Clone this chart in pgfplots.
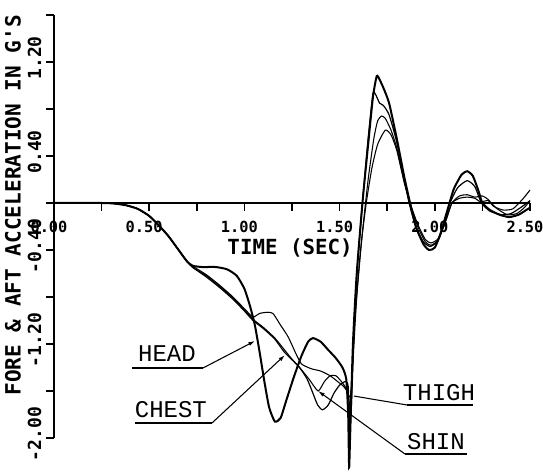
\documentclass[border=0pt]{standalone}
\usepackage{pgfplots}
\pgfplotsset{compat=1.18}
\usepackage{fontspec}
\setmainfont{Liberation Mono}
\newfontfamily\bmono{DejaVu Sans Mono}
\usetikzlibrary{arrows.meta}
\begin{document}
\begin{tikzpicture}
\useasboundingbox (-40.5pt,-26.25pt) rectangle (366.75pt,328.5pt);
\begin{axis}[
 at={(0,0)}, anchor=south west,
 scale only axis, width=357pt, height=317.25pt,
 xmin=0, xmax=2.5, ymin=-2.0, ymax=1.6,
 axis x line=middle, axis y line=left,
 axis line style={-, line width=1.3pt},
 clip=false,
 xtick={0,0.5,1,1.5,2,2.5},
 xticklabels={0.00,0.50,1.00,1.50,2.00,2.50},
 minor xtick={0.25,0.75,1.25,1.75,2.25},
 ytick={-2.0,-1.2,-0.4,0.4,1.2},
 yticklabels={-2.00,-1.20,-0.40,0.40,1.20},
 minor ytick={-1.6,-0.8,0,0.8,1.6},
 tick align=outside,
 major tick length=6pt, minor tick length=6pt,
 every tick/.style={line width=1.1pt, black},
 hide obscured x ticks=false, hide obscured y ticks=false,
 xticklabel style={font=\bmono\bfseries\fontsize{11.5}{13}\selectfont, anchor=north, xshift=-3.75pt, yshift=-4pt},
 yticklabel style={font=\bmono\bfseries\fontsize{13.5}{15}\selectfont, rotate=90, anchor=south, xshift=3pt},
 xlabel={TIME (SEC)}, ylabel={FORE \& AFT ACCELERATION IN G'S},
 every axis x label/.style={at={(axis cs:1.24,-0.385)}, anchor=center, font=\bmono\bfseries\fontsize{15.6}{17}\selectfont},
 every axis y label/.style={at={(axis cs:-0.215,-0.02)}, rotate=90, anchor=center, font=\bmono\bfseries\fontsize{15.8}{18}\selectfont},
]
% HEAD (thick)
\addplot[black, line width=1.5pt, smooth, tension=0.35] coordinates {
(0,0) (0.25,0) (0.32,-0.005) (0.38,-0.02) (0.44,-0.05) (0.50,-0.11) (0.55,-0.19) (0.60,-0.28) (0.65,-0.39) (0.70,-0.50)
(0.73,-0.535) (0.78,-0.545) (0.85,-0.545) (0.91,-0.565) (0.96,-0.62) (1.00,-0.73) (1.03,-0.88) (1.055,-1.04) (1.08,-1.27) (1.105,-1.52) (1.13,-1.74) (1.16,-1.86) (1.19,-1.83) (1.22,-1.68) (1.26,-1.48) (1.30,-1.30) (1.335,-1.18) (1.36,-1.15) (1.40,-1.18) (1.44,-1.25) (1.48,-1.32) (1.515,-1.40) (1.535,-1.50) (1.545,-1.8) (1.55,-2.25)
(1.555,-2.0) (1.57,-1.2) (1.59,-0.6) (1.62,0.0) (1.65,0.5) (1.675,0.9) (1.695,1.08) (1.71,1.05) (1.73,0.98) (1.76,0.85) (1.80,0.55) (1.84,0.22) (1.87,0.0) (1.90,-0.2) (1.94,-0.35) (1.97,-0.40) (2.00,-0.38) (2.03,-0.26) (2.07,-0.04) (2.10,0.12) (2.14,0.24) (2.17,0.27) (2.20,0.23) (2.23,0.10) (2.25,0.0) (2.29,-0.06) (2.34,-0.10) (2.39,-0.12) (2.44,-0.10) (2.48,-0.06) (2.50,-0.04)
};
% CHEST
\addplot[black, line width=0.9pt, smooth, tension=0.35] coordinates {
(0,0) (0.25,0) (0.32,-0.005) (0.38,-0.02) (0.44,-0.05) (0.50,-0.11) (0.55,-0.19) (0.60,-0.28) (0.65,-0.39) (0.70,-0.50)
(0.73,-0.55) (0.80,-0.62) (0.87,-0.71) (0.94,-0.81) (1.00,-0.91) (1.045,-0.99) (1.10,-1.06) (1.16,-1.15) (1.21,-1.25) (1.25,-1.33) (1.29,-1.40) (1.33,-1.50) (1.36,-1.62) (1.385,-1.72) (1.41,-1.76) (1.44,-1.72) (1.47,-1.62) (1.50,-1.55) (1.53,-1.52) (1.545,-1.56) (1.555,-1.9)
(1.565,-1.6) (1.58,-0.9) (1.60,-0.4) (1.625,0.1) (1.65,0.55) (1.675,0.93) (1.69,0.92) (1.71,0.85) (1.73,0.83) (1.76,0.75) (1.80,0.52) (1.84,0.20) (1.865,0.0) (1.90,-0.2) (1.94,-0.33) (1.975,-0.37) (2.01,-0.33) (2.05,-0.18) (2.08,0.0) (2.12,0.13) (2.17,0.19) (2.21,0.14) (2.245,0.0) (2.29,-0.07) (2.35,-0.10) (2.40,-0.09) (2.45,-0.04) (2.50,0.02)
};
% THIGH
\addplot[black, line width=0.8pt, smooth, tension=0.35] coordinates {
(0,0) (0.25,0) (0.32,-0.005) (0.38,-0.02) (0.44,-0.05) (0.50,-0.11) (0.55,-0.19) (0.60,-0.28) (0.65,-0.39) (0.70,-0.50)
(0.73,-0.54) (0.80,-0.61) (0.87,-0.70) (0.94,-0.80) (1.00,-0.90) (1.045,-0.97) (1.08,-0.94) (1.12,-0.93) (1.15,-0.94) (1.19,-1.04) (1.23,-1.14) (1.27,-1.28) (1.30,-1.37) (1.35,-1.41) (1.40,-1.43) (1.45,-1.47) (1.49,-1.52) (1.52,-1.56) (1.545,-1.62) (1.555,-1.75)
(1.565,-1.5) (1.59,-0.8) (1.62,-0.25) (1.65,0.2) (1.68,0.55) (1.70,0.70) (1.72,0.74) (1.74,0.72) (1.77,0.62) (1.80,0.47) (1.84,0.18) (1.87,0.0) (1.91,-0.2) (1.95,-0.33) (1.98,-0.36) (2.02,-0.31) (2.06,-0.14) (2.09,0.0) (2.13,0.04) (2.17,0.05) (2.21,0.04) (2.24,0.01) (2.28,0.02) (2.31,-0.03) (2.36,-0.06) (2.41,-0.05) (2.46,0.03) (2.50,0.11)
};
% SHIN
\addplot[black, line width=0.8pt, smooth, tension=0.35] coordinates {
(0,0) (0.25,0) (0.32,-0.005) (0.38,-0.02) (0.44,-0.05) (0.50,-0.11) (0.55,-0.19) (0.60,-0.28) (0.65,-0.39) (0.70,-0.50)
(0.73,-0.55) (0.80,-0.63) (0.87,-0.72) (0.94,-0.82) (1.00,-0.92) (1.045,-1.0) (1.10,-1.07) (1.16,-1.16) (1.21,-1.27) (1.26,-1.35) (1.30,-1.42) (1.34,-1.50) (1.387,-1.60) (1.42,-1.52) (1.45,-1.47) (1.48,-1.47) (1.51,-1.52) (1.535,-1.58) (1.55,-1.65)
(1.56,-1.6) (1.58,-1.0) (1.61,-0.4) (1.64,0.0) (1.67,0.3) (1.70,0.5) (1.74,0.62) (1.77,0.58) (1.80,0.45) (1.84,0.17) (1.87,0.0) (1.91,-0.18) (1.95,-0.31) (1.98,-0.34) (2.02,-0.30) (2.06,-0.14) (2.09,0.0) (2.13,0.06) (2.17,0.07) (2.21,0.05) (2.25,0.06) (2.28,0.03) (2.32,-0.04) (2.38,-0.10) (2.43,-0.09) (2.47,-0.04) (2.50,0.02)
};
% annotations
\node[font=\fontsize{18}{20}\selectfont, anchor=center] at (axis cs:0.593,-1.285) {HEAD};
\draw[line width=1.1pt] (axis cs:0.41,-1.404) -- (axis cs:0.783,-1.404);
\draw[line width=0.8pt, -{Latex[length=5pt,width=3pt]}] (axis cs:0.783,-1.404) -- (axis cs:1.056,-1.174);
\node[font=\fontsize{18}{20}\selectfont, anchor=center] at (axis cs:0.614,-1.762) {CHEST};
\draw[line width=1.1pt] (axis cs:0.425,-1.872) -- (axis cs:0.830,-1.872);
\draw[line width=0.8pt, -{Latex[length=5pt,width=3pt]}] (axis cs:0.830,-1.872) -- (axis cs:1.213,-1.294);
\node[font=\fontsize{18}{20}\selectfont, anchor=center] at (axis cs:2.022,-1.617) {THIGH};
\draw[line width=1.1pt] (axis cs:1.854,-1.719) -- (axis cs:2.201,-1.719);
\draw[line width=0.8pt] (axis cs:1.854,-1.719) -- (axis cs:1.575,-1.643);
\node[font=\fontsize{18}{20}\selectfont, anchor=center] at (axis cs:2.006,-2.034) {SHIN};
\draw[line width=1.1pt] (axis cs:1.843,-2.136) -- (axis cs:2.169,-2.136);
\draw[line width=0.8pt, -{Latex[length=5pt,width=3pt]}] (axis cs:1.843,-2.136) -- (axis cs:1.387,-1.60);
\end{axis}
\end{tikzpicture}
\end{document}
